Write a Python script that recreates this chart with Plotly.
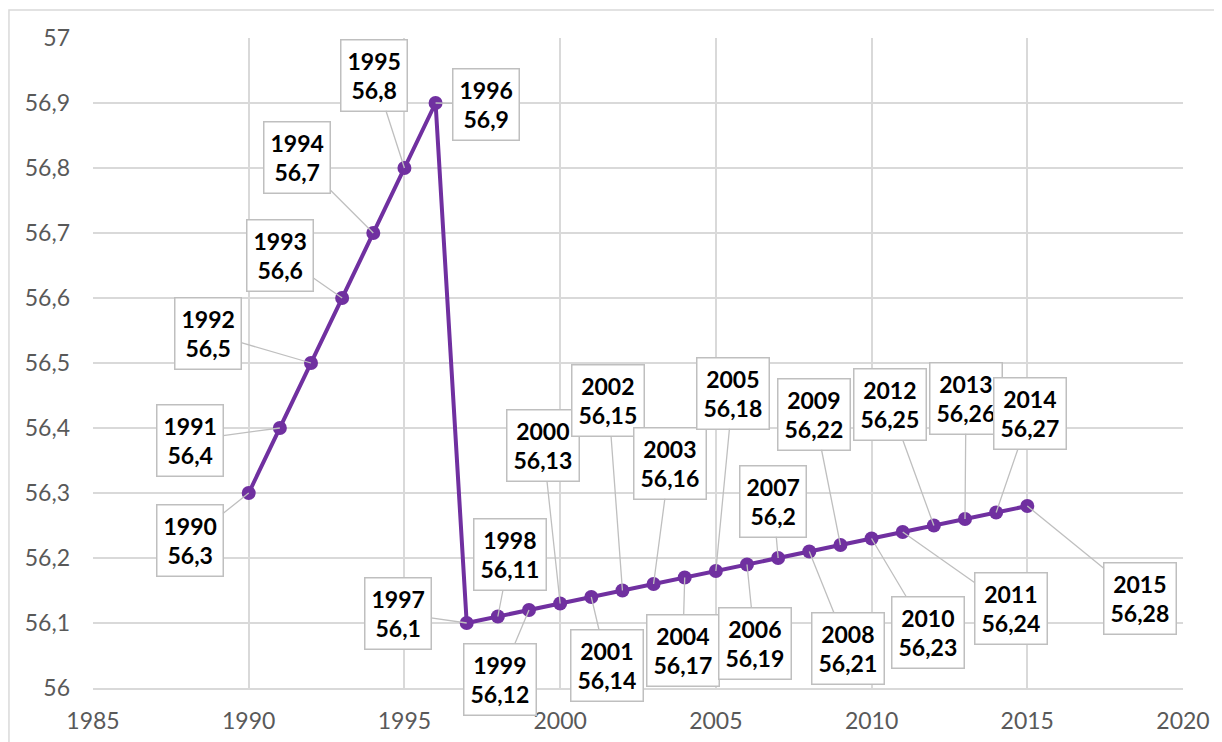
import plotly.graph_objects as go

years = list(range(1990, 2016))
values = [56.3, 56.4, 56.5, 56.6, 56.7, 56.8, 56.9, 56.1, 56.11, 56.12, 56.13,
          56.14, 56.15, 56.16, 56.17, 56.18, 56.19, 56.2, 56.21, 56.22, 56.23,
          56.24, 56.25, 56.26, 56.27, 56.28]
y_tick_vals = [56, 56.1, 56.2, 56.3, 56.4, 56.5, 56.6, 56.7, 56.8, 56.9, 57]
y_tick_labels = ["56", "56,1", "56,2", "56,3", "56,4", "56,5", "56,6", "56,7", "56,8", "56,9", "57"]
x_tick_vals = [1985, 1990, 1995, 2000, 2005, 2010, 2015, 2020]

# label box offsets (pixels) relative to each point
label_offsets = [(-59, 47), (-90, 12), (-103, -30), (-62, -43), (-76, -76), (-30, -93),
                 (50, 1), (-69, -10), (12, -62), (-29, 69), (-17, -158), (16, 68),
                 (-14, -190), (16, -121), (-2, 73), (17, -178), (8, 79), (-5, -57),
                 (39, 97), (-26, -131), (56, 94), (108, 76), (-44, -121), (1, -121),
                 (34, -99), (113, 92)]

FONT = "Lato, Carlito, Calibri, sans-serif"
PURPLE = "#7030A0"

fig = go.Figure()
fig.add_trace(go.Scatter(
    x=years, y=values, mode="lines+markers",
    line=dict(color=PURPLE, width=4),
    marker=dict(color=PURPLE, size=14),
    hoverinfo="skip", showlegend=False,
))

for yr, v, (dx, dy) in zip(years, values, label_offsets):
    txt = f"<b>{yr}</b><br><b>{str(v).replace('.', ',')}</b>"
    fig.add_annotation(
        x=yr, y=v, xref="x", yref="y", text=txt,
        showarrow=True, arrowhead=0, arrowwidth=1.3, arrowcolor="#bfbfbf",
        ax=dx, ay=dy, axref="pixel", ayref="pixel", standoff=0,
        bgcolor="white", bordercolor="#bfbfbf", borderwidth=1.5, borderpad=6,
        font=dict(family=FONT, size=23, color="black"),
        align="center",
    )

# outer chart border
fig.add_shape(type="rect", xref="paper", yref="paper",
              x0=-0.0771, x1=1.1, y0=-0.2, y1=1.043,
              line=dict(color="#d9d9d9", width=1.5), fillcolor="rgba(0,0,0,0)",
              layer="below")

fig.update_layout(
    width=1222, height=742,
    margin=dict(l=85, r=47, t=30, b=62),
    paper_bgcolor="white", plot_bgcolor="white",
    font=dict(family=FONT, size=23, color="#595959"),
    xaxis=dict(range=[1985, 2020], tickvals=x_tick_vals, showgrid=True,
               gridcolor="#d9d9d9", gridwidth=1.5, zeroline=False,
               showline=True, linecolor="#d9d9d9", linewidth=1.5,
               ticks="", ticklabelstandoff=12, fixedrange=True),
    yaxis=dict(range=[56, 57], tickvals=y_tick_vals, ticktext=y_tick_labels,
               showgrid=True, gridcolor="#d9d9d9", gridwidth=1.5, zeroline=False,
               showline=False, ticks="", ticklabelstandoff=22, fixedrange=True),
)

fig.write_html("out.html")
